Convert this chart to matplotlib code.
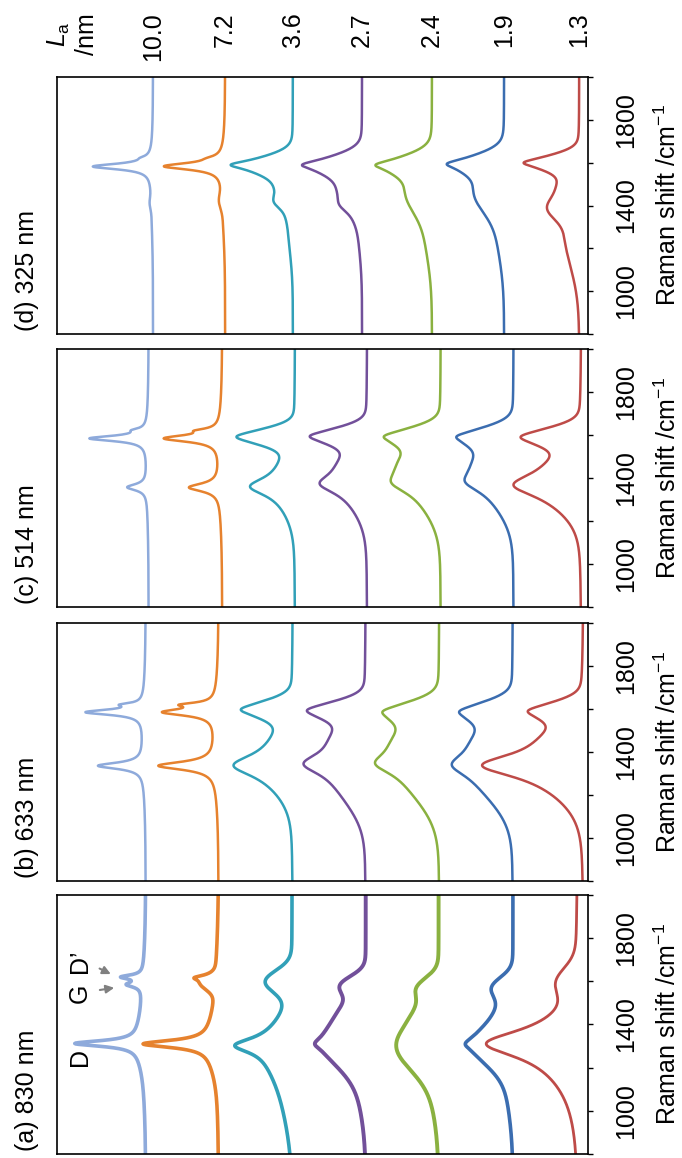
import numpy as np
import matplotlib
matplotlib.use("Agg")
import matplotlib.pyplot as plt
from matplotlib.transforms import blended_transform_factory

plt.rcParams["font.family"] = ["Liberation Sans", "DejaVu Sans"]
plt.rcParams["mathtext.fontset"] = "custom"
plt.rcParams["mathtext.rm"] = "Liberation Sans"
plt.rcParams["mathtext.it"] = "Liberation Sans:italic"

# crystallite size L_a of each trace, top to bottom of the stack
la_labels = ["10.0", "7.2", "3.6", "2.7", "2.4", "1.9", "1.3"]
line_colors = ["#8eaadb", "#e6822e", "#31a0b8", "#72509a", "#8ab140", "#3b6db0", "#be4b48"]
panel_titles = ["(a) 830 nm", "(b) 633 nm", "(c) 514 nm", "(d) 325 nm"]

# baseline of each trace (units of trace spacing, measured from the right frame)
offsets_830 = [6.01, 5.02, 4.02, 3.02, 2.03, 1.02, 0.14]
offsets_633 = [6.01, 5.02, 4.01, 3.02, 2.02, 1.02, 0.06]
offsets_514 = [5.97, 4.97, 3.98, 3.00, 2.00, 1.01, 0.09]
offsets_325 = [5.91, 4.93, 4.01, 3.07, 2.12, 1.14, 0.12]

# bands: (shape, centre /cm-1, height, fwhm /cm-1)
bands_830 = [
    [("L", 1312, 0.86, 32), ("G", 1320, 0.05, 220), ("L", 1585, 0.20, 28), ("L", 1620, 0.28, 22), ("G", 1380, 0.055, 550)],
    [("L", 1310, 0.90, 40), ("G", 1310, 0.08, 250), ("G", 1590, 0.18, 70), ("L", 1617, 0.17, 25), ("G", 1420, 0.05, 600)],
    [("L", 1303, 0.47, 80), ("G", 1300, 0.20, 280), ("G", 1600, 0.34, 120), ("G", 1150, 0.15, 450)],
    [("G", 1320, 0.48, 250), ("L", 1310, 0.12, 60), ("G", 1480, 0.15, 150), ("G", 1585, 0.28, 100), ("G", 1180, 0.12, 400)],
    [("G", 1310, 0.48, 260), ("G", 1480, 0.12, 150), ("G", 1575, 0.22, 110), ("G", 1180, 0.12, 420)],
    [("G", 1310, 0.45, 220), ("L", 1310, 0.12, 60), ("G", 1480, 0.10, 150), ("G", 1575, 0.24, 110), ("G", 1180, 0.10, 400)],
    [("L", 1312, 0.95, 150), ("G", 1300, 0.22, 300), ("G", 1600, 0.22, 150), ("G", 1180, 0.10, 400)],
]
bands_633 = [
    [("L", 1336, 0.62, 35), ("L", 1585, 0.78, 30), ("L", 1620, 0.22, 18), ("G", 1450, 0.03, 500)],
    [("L", 1336, 0.78, 45), ("L", 1585, 0.70, 38), ("L", 1620, 0.35, 22), ("G", 1450, 0.04, 500)],
    [("L", 1338, 0.55, 120), ("G", 1320, 0.25, 260), ("G", 1480, 0.10, 150), ("G", 1598, 0.50, 100), ("L", 1598, 0.15, 50)],
    [("L", 1345, 0.50, 120), ("G", 1330, 0.25, 260), ("G", 1200, 0.15, 250), ("G", 1480, 0.27, 160), ("G", 1595, 0.57, 100), ("L", 1595, 0.12, 50)],
    [("L", 1345, 0.40, 120), ("G", 1300, 0.40, 320), ("G", 1470, 0.35, 180), ("G", 1590, 0.50, 110), ("L", 1590, 0.10, 50)],
    [("L", 1340, 0.40, 130), ("G", 1290, 0.40, 300), ("G", 1470, 0.30, 170), ("G", 1590, 0.50, 110), ("L", 1590, 0.10, 50)],
    [("L", 1338, 0.97, 130), ("G", 1320, 0.40, 300), ("G", 1480, 0.20, 140), ("G", 1592, 0.50, 100), ("L", 1592, 0.12, 50)],
]
bands_514 = [
    [("L", 1357, 0.27, 35), ("L", 1584, 0.78, 30), ("L", 1622, 0.12, 20), ("G", 1450, 0.02, 500)],
    [("L", 1356, 0.42, 45), ("L", 1584, 0.75, 38), ("L", 1620, 0.20, 22), ("G", 1450, 0.03, 500)],
    [("L", 1360, 0.45, 100), ("G", 1340, 0.15, 250), ("G", 1480, 0.08, 150), ("G", 1592, 0.60, 90), ("L", 1592, 0.15, 45)],
    [("L", 1372, 0.40, 110), ("G", 1350, 0.20, 260), ("G", 1480, 0.20, 150), ("G", 1595, 0.55, 95), ("L", 1595, 0.15, 45)],
    [("L", 1375, 0.30, 120), ("G", 1350, 0.25, 280), ("G", 1480, 0.35, 170), ("G", 1595, 0.50, 100), ("L", 1595, 0.12, 45)],
    [("L", 1380, 0.30, 120), ("G", 1350, 0.25, 270), ("G", 1485, 0.33, 170), ("G", 1594, 0.50, 105), ("L", 1594, 0.12, 45)],
    [("L", 1367, 0.60, 130), ("G", 1350, 0.30, 250), ("G", 1480, 0.15, 140), ("G", 1592, 0.60, 100), ("L", 1592, 0.13, 50)],
]
bands_325 = [
    [("L", 1582, 0.80, 32), ("L", 1622, 0.06, 20), ("G", 1410, 0.02, 60), ("G", 1450, 0.02, 400)],
    [("L", 1583, 0.80, 38), ("L", 1620, 0.08, 25), ("G", 1420, 0.04, 80), ("G", 1450, 0.035, 400)],
    [("G", 1590, 0.45, 100), ("L", 1590, 0.30, 40), ("G", 1415, 0.07, 60), ("G", 1485, 0.21, 190), ("G", 1300, 0.06, 300)],
    [("G", 1590, 0.45, 110), ("L", 1590, 0.25, 45), ("G", 1470, 0.30, 200), ("G", 1400, 0.05, 60), ("G", 1300, 0.05, 300)],
    [("G", 1590, 0.40, 110), ("L", 1590, 0.22, 45), ("G", 1470, 0.30, 220), ("G", 1300, 0.10, 350)],
    [("G", 1595, 0.40, 110), ("L", 1595, 0.22, 45), ("G", 1470, 0.35, 220), ("G", 1300, 0.10, 350)],
    [("G", 1600, 0.50, 90), ("L", 1600, 0.20, 40), ("G", 1390, 0.26, 120), ("G", 1500, 0.18, 120), ("G", 1280, 0.20, 380)],
]

shift = np.arange(800, 2001, 2.0)


def band(w, shape, centre, height, fwhm):
    if shape == "L":
        return height / (1 + 4 * ((w - centre) / fwhm) ** 2)
    return height * np.exp(-4 * np.log(2) * ((w - centre) / fwhm) ** 2)


def spectrum(bands):
    total = np.zeros_like(shift)
    for b in bands:
        total += band(shift, *b)
    return total


fig = plt.figure(figsize=(6.82, 11.58), dpi=100)
# axes boxes in pixels (top, bottom) for panels a..d
boxes = [(895, 1154), (623, 881), (349, 607), (77, 334)]
all_offsets = [offsets_830, offsets_633, offsets_514, offsets_325]
all_bands = [bands_830, bands_633, bands_514, bands_325]
# the 830 nm traces are noisy, so they read thicker
widths = [[2.6, 2.6, 2.6, 2.8, 2.8, 2.6, 2.0]] + [[1.8] * 7] * 3
axes = []
for k in range(4):
    top, bot = boxes[k]
    ax = fig.add_axes([57 / 682, 1 - bot / 1158, 531 / 682, (bot - top) / 1158])
    axes.append(ax)
    for i in range(7):
        ax.plot(all_offsets[k][i] + spectrum(all_bands[k][i]), shift,
                color=line_colors[i], lw=widths[k][i], solid_joinstyle="round")
    ax.set_xlim(531 / 73.6, 0)
    ax.set_ylim(800, 2000)
    ax.set_xticks([])
    ax.yaxis.tick_right()
    ax.set_yticks([1000, 1400, 1800])
    ax.set_yticks([800, 1200, 1600, 2000], minor=True)
    ax.tick_params(axis="y", which="both", direction="out", length=3.8, width=1.0,
                   labelsize=18, pad=15, labelrotation=90)
    for t in ax.get_yticklabels():
        t.set_va("center")
    for s in ax.spines.values():
        s.set_linewidth(1.2)
    ax.text(1.15, 0.5, "Raman shift /cm$^{-1}$", rotation=90, ha="center", va="center",
            transform=ax.transAxes, fontsize=18)
    ax.text(-0.056, 0.012, panel_titles[k], rotation=90, ha="center", va="bottom",
            transform=ax.transAxes, fontsize=18)

# peak labels in panel (a)
ax = axes[0]
ax.text(6.90, 1250, "D", rotation=90, ha="center", va="center", fontsize=18)
ax.text(6.90, 1545, "G", rotation=90, ha="center", va="center", fontsize=18)
ax.text(6.90, 1693, "D\u2019", rotation=90, ha="center", va="center", fontsize=18)
ax.annotate("", xy=(6.45, 1628), xytext=(6.67, 1665),
            arrowprops=dict(arrowstyle="-|>", color="#808080", lw=1.5, mutation_scale=12))
ax.annotate("", xy=(6.40, 1572), xytext=(6.67, 1558),
            arrowprops=dict(arrowstyle="-|>", color="#808080", lw=1.5, mutation_scale=12))

# L_a values above the top panel
ax = axes[3]
tr = blended_transform_factory(ax.transData, ax.transAxes)
for i in range(7):
    ax.text(offsets_325[i], 1.253, la_labels[i], rotation=90, ha="center", va="top",
            transform=tr, fontsize=18)
ax.text(7.0, 1.167, "$\\mathit{L}_\\mathrm{a}$\n/nm", rotation=90, ha="center", va="center",
        multialignment="center", transform=tr, fontsize=18, linespacing=1.15)

fig.savefig("out.png", dpi=100)
